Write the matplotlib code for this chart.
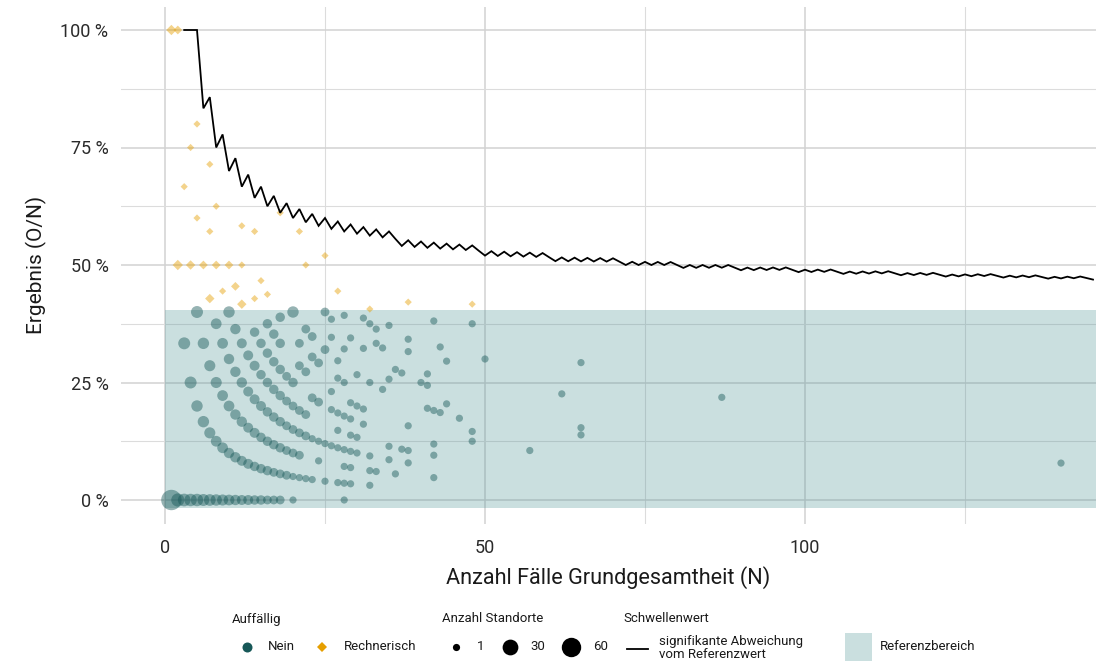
import numpy as np
import matplotlib
matplotlib.use("Agg")
import matplotlib.pyplot as plt
from matplotlib.lines import Line2D
from matplotlib.patches import Rectangle

plt.rcParams["font.family"] = ["Roboto", "DejaVu Sans"]

# ---------------------------------------------------------------
# Standorte ohne Auffälligkeit ("Nein"): Fälle N, beobachtete O, Anzahl Standorte
# ---------------------------------------------------------------
nein_n = [
    1, 2, 3, 4, 5, 6, 7, 8, 9, 10, 11, 12, 13, 14, 15, 16, 17, 18, 20, 28,            # O = 0
    3, 4, 5, 6, 7, 8, 9, 10, 11, 12, 13, 14, 15, 16, 17, 18, 19, 20, 21, 22, 23, 25,
    27, 28, 29, 32,                                                                    # O = 1
    5, 6, 7, 8, 9, 10, 11, 12, 13, 14, 15, 16, 17, 18, 19, 20, 21, 24, 28, 29, 32, 33,
    36, 42,                                                                            # O = 2
    8, 9, 10, 11, 12, 13, 14, 15, 16, 17, 18, 19, 20, 21, 22, 23, 24, 25, 26, 27, 28,
    29, 30, 32, 35, 38,                                                                # O = 3
    10, 11, 12, 13, 14, 15, 16, 17, 18, 19, 20, 21, 22, 27, 29, 30, 35, 37, 38, 42,    # O = 4
    14, 15, 16, 17, 18, 19, 20, 23, 24, 26, 27, 28, 29, 31, 42,                        # O = 5
    16, 17, 18, 21, 22, 26, 29, 30, 31, 38, 48, 57,                                    # O = 6
    18, 21, 23, 24, 27, 28, 48,                                                        # O = 7
    20, 22, 23, 25, 27, 30, 32, 34, 41, 42, 43, 46,                                    # O = 8
    26, 28, 35, 44, 65,                                                                # O = 9
    25, 26, 29, 31, 36, 37, 40, 41, 65,                                                # O = 10
    28, 33, 34, 41, 140,                                                               # O = 11
    31, 32, 33, 38,                                                                    # O = 12
    35, 38, 44,                                                                        # O = 13
    43, 62,                                                                            # O = 14
    50, 42, 48, 65, 87,                                                                # O = 15, 16, 18, 19, 19
]
nein_o = (
    [0] * 20 + [1] * 26 + [2] * 24 + [3] * 26 + [4] * 20 + [5] * 15
    + [6] * 12 + [7] * 7 + [8] * 12 + [9] * 5 + [10] * 9 + [11] * 5
    + [12] * 4 + [13] * 3 + [14] * 2 + [15, 16, 18, 19, 19]
)
nein_anzahl = [
    70, 15, 13, 12, 12, 10, 9, 8, 7, 6, 5, 4, 4, 3, 3, 2, 2, 2, 1, 1,
    10, 10, 8, 8, 7, 6, 6, 5, 5, 4, 4, 3, 3, 3, 2, 2, 2, 1, 1, 1, 1, 1, 1, 1, 1, 1,
    10, 8, 7, 7, 6, 6, 5, 5, 4, 4, 3, 3, 3, 3, 2, 2, 2, 1, 1, 1, 1, 1, 1, 1,
    6, 6, 5, 5, 5, 4, 4, 4, 3, 3, 3, 2, 2, 2, 2, 1, 1, 1, 1, 1, 1, 1, 1, 1, 1, 1,
    8, 5, 4, 4, 4, 3, 3, 3, 3, 2, 2, 2, 2, 1, 1, 1, 1, 1, 1, 1,
    3, 3, 3, 3, 3, 2, 3, 2, 2, 1, 1, 1, 1, 1, 1,
    3, 3, 3, 2, 2, 1, 1, 1, 1, 1, 1, 1,
    3, 2, 2, 2, 1, 1, 1,
    8, 2, 2, 2, 1, 1, 1, 1, 1, 1, 1, 1,
    1, 1, 1, 1, 1,
    2, 1, 1, 1, 1, 1, 1, 1, 1,
    1, 1, 1, 1, 1,
    1, 1, 1, 1,
    1, 1, 1,
    1, 1,
    1, 1, 1, 1, 1,
]

# ---------------------------------------------------------------
# Rechnerisch auffällige Standorte
# ---------------------------------------------------------------
rech_n = [1, 2, 5, 4, 7, 3, 8, 5, 18, 7, 12, 14, 21, 25, 27, 2, 4, 6, 8, 10, 12, 22,
          15, 11, 9, 7, 12, 14, 16, 32, 38, 48]
rech_o = [1, 2, 4, 3, 5, 2, 5, 3, 11, 4, 7, 8, 12, 13, 12, 1, 2, 3, 4, 5, 6, 11,
          7, 5, 4, 3, 5, 6, 7, 13, 16, 20]
rech_anzahl = [5, 2, 1, 1, 1, 1, 1, 1, 1, 1, 1, 1, 1, 1, 1, 5, 3, 2, 2, 2, 1, 1,
               1, 2, 1, 3, 3, 1, 1, 1, 1, 1]

# ---------------------------------------------------------------
# Schwellenwert: kleinste signifikante Anzahl O je Grundgesamtheit N
# ---------------------------------------------------------------
schwelle_n = list(range(3, 146))
schwelle_o = [
    3, 4, 5, 5, 6, 6, 7, 7, 8, 8, 9, 9, 10, 10, 11, 11, 12, 12, 13, 13, 14, 14,
    15, 15, 16, 16, 17, 17, 18, 18, 19, 19, 20, 20, 20, 21, 21, 22, 22, 23, 23,
    24, 24, 25, 25, 26, 26, 26, 27, 27, 28, 28, 29, 29, 30, 30, 31, 31, 31, 32,
    32, 33, 33, 34, 34, 35, 35, 36, 36, 36, 37, 37, 38, 38, 39, 39, 40, 40, 40,
    41, 41, 42, 42, 43, 43, 44, 44, 44, 45, 45, 46, 46, 47, 47, 48, 48, 48, 49,
    49, 50, 50, 51, 51, 51, 52, 52, 53, 53, 54, 54, 55, 55, 55, 56, 56, 57, 57,
    58, 58, 58, 59, 59, 60, 60, 61, 61, 62, 62, 62, 63, 63, 64, 64, 65, 65, 65,
    66, 66, 67, 67, 68, 68, 68,
]

referenzwert = 40.4          # obere Grenze des Referenzbereichs in %
achse_x_ticks = [0, 50, 100]
achse_y_ticks = [0, 25, 50, 75, 100]
groessen_legende = [1, 30, 60]

assert len(nein_n) == len(nein_o) == len(nein_anzahl)
assert len(rech_n) == len(rech_o) == len(rech_anzahl)
assert len(schwelle_n) == len(schwelle_o)

# ---------------------------------------------------------------
W, H, DPI = 1098, 664, 100
TEAL = "#175858"
ORANGE = "#e69f00"
AREA = "#519598"
AREA_ALPHA = 0.30


def durchmesser(anzahl):
    """Punktdurchmesser in Pixeln, flächenproportional zur Anzahl."""
    a = np.asarray(anzahl, dtype=float)
    return 7.2 + 13.2 * np.sqrt((a - 1) / 69.0)


def s_kreis(anzahl):
    return (0.72 * durchmesser(anzahl)) ** 2


def fx(px):
    return px / W


def fy(py):
    return 1 - py / H


fig = plt.figure(figsize=(W / DPI, H / DPI), dpi=DPI)
fig.patch.set_facecolor("white")
ax = fig.add_axes([fx(121), fy(523.5), (1096 - 121) / W, (523.5 - 6.5) / H])

ax.set_xlim(-6.875, 145.47)
ax.set_ylim(-5, 105)

# Gitternetz
ax.set_xticks(achse_x_ticks)
ax.set_xticks([25, 75, 125], minor=True)
ax.set_yticks(achse_y_ticks)
ax.set_yticks([12.5, 37.5, 62.5, 87.5], minor=True)
ax.grid(True, which="major", color="#d2d2d2", linewidth=1.1, zorder=0)
ax.grid(True, which="minor", color="#dcdcdc", linewidth=0.8, zorder=0)
ax.set_axisbelow(True)
for sp in ax.spines.values():
    sp.set_visible(False)
ax.tick_params(which="both", length=0)
ax.tick_params(axis="x", pad=11, labelsize=13, labelcolor="#2a2a2a")
ax.tick_params(axis="y", pad=9, labelsize=13, labelcolor="#2a2a2a")
ax.set_xticklabels([str(t) for t in achse_x_ticks])
ax.set_yticklabels([f"{t} %" for t in achse_y_ticks])

# Referenzbereich
ax.add_patch(Rectangle((0, -1.7), 145.47, referenzwert + 1.7, facecolor=AREA,
                       alpha=AREA_ALPHA, edgecolor="none", zorder=1))

# Punkte
nn = np.asarray(nein_n, float)
no = np.asarray(nein_o, float)
ax.scatter(nn, 100 * no / nn, s=s_kreis(nein_anzahl), color=TEAL, alpha=0.45,
           linewidths=0, zorder=2)
rn = np.asarray(rech_n, float)
ro = np.asarray(rech_o, float)
ax.scatter(rn, 100 * ro / rn, s=s_kreis(rech_anzahl) / 2, marker="D", color=ORANGE,
           alpha=0.45, linewidths=0, zorder=2)

# Schwellenwert-Linie
sn = np.asarray(schwelle_n, float)
so = np.asarray(schwelle_o, float)
ax.plot(sn, 100 * so / sn, color="black", linewidth=1.3, zorder=3,
        solid_joinstyle="miter")

ax.set_xlabel("Anzahl Fälle Grundgesamtheit (N)", fontsize=15.6, color="#1a1a1a",
              labelpad=7)
ax.set_ylabel("Ergebnis (O/N)", fontsize=15, color="#1a1a1a", labelpad=10)

# ---------------------------------------------------------------
# Legende
# ---------------------------------------------------------------
LEG_FS = 9.5
TITLE_Y = 619
ROW_Y = 647


def text(px, py, s, **kw):
    fig.text(fx(px), fy(py), s, fontsize=LEG_FS, color="#1a1a1a", va="center",
             ha="left", **kw)


def marker(px, py, d, **kw):
    fig.add_artist(Line2D([fx(px)], [fy(py)], transform=fig.transFigure,
                          linestyle="none", markersize=0.72 * d,
                          markeredgewidth=0, **kw))


text(232, TITLE_Y, "Auffällig")
marker(246.5, ROW_Y, 10, marker="o", color=TEAL)
text(268, ROW_Y, "Nein")
marker(322, ROW_Y, 9.5 / 1.414, marker="D", color=ORANGE)
text(344, ROW_Y, "Rechnerisch")

text(442, TITLE_Y, "Anzahl Standorte")
for cx, tx, v in zip([455.5, 509.5, 571], [477, 530.5, 593], groessen_legende):
    marker(cx, ROW_Y, float(durchmesser(v)), marker="o", color="black")
    text(tx, ROW_Y, str(v))

text(623, TITLE_Y, "Schwellenwert")
fig.add_artist(Line2D([fx(627), fx(647.5)], [fy(649), fy(649)],
                      transform=fig.transFigure, color="black", linewidth=1.3))
text(659, 641.5, "signifikante Abweichung")
text(659, 654.5, "vom Referenzwert")

fig.add_artist(Rectangle((fx(844.5), fy(661)), (872 - 844.5) / W, 28 / H,
                         transform=fig.transFigure, facecolor=AREA,
                         alpha=AREA_ALPHA, edgecolor="none"))
text(880, ROW_Y, "Referenzbereich")

fig.savefig("out.png", dpi=DPI, facecolor="white")
